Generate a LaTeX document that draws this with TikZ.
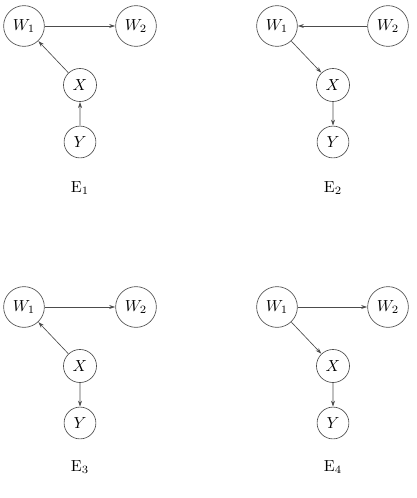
\documentclass[tikz,border=0pt]{standalone}
\usetikzlibrary{arrows.meta}
\begin{document}
\begin{tikzpicture}[x=0.625pt,y=-0.625pt,scale=1.6,
  every node/.style={transform shape},
  vnode/.style={circle,draw=black!70,line width=0.65pt,inner sep=3.33pt},
  elab/.style={anchor=base},
  edge/.style={draw=black!70,line width=0.65pt,-{Stealth[length=6pt,width=4pt]}}]
\useasboundingbox (0,0) rectangle (417,498);
% ---------- E1 ----------
\begin{scope}[shift={(24,26)}]
\node[vnode] (a1) at (0,0) {$W_1$};
\node[vnode] (a2) at (112,0) {$W_2$};
\node[vnode] (ax) at (56,59) {$X$};
\node[vnode] (ay) at (56,116) {$Y$};
\node[elab] (al) at (56,166) {$\mathrm{E}_1$};
\draw[edge] (a1) -- (a2);
\draw[edge] (ax) -- (a1);
\draw[edge] (ay) -- (ax);
\end{scope}
% ---------- E2 ----------
\begin{scope}[shift={(277,26)}]
\node[vnode] (b1) at (0,0) {$W_1$};
\node[vnode] (b2) at (111,0) {$W_2$};
\node[vnode] (bx) at (56,59) {$X$};
\node[vnode] (by) at (56,116) {$Y$};
\node[elab] (bl) at (56,166) {$\mathrm{E}_2$};
\draw[edge] (b2) -- (b1);
\draw[edge] (b1) -- (bx);
\draw[edge] (bx) -- (by);
\end{scope}
% ---------- E3 ----------
\begin{scope}[shift={(24,307)}]
\node[vnode] (c1) at (0,0) {$W_1$};
\node[vnode] (c2) at (112,0) {$W_2$};
\node[vnode] (cx) at (56,59) {$X$};
\node[vnode] (cy) at (56,116) {$Y$};
\node[elab] (cl) at (56,164) {$\mathrm{E}_3$};
\draw[edge] (c1) -- (c2);
\draw[edge] (cx) -- (c1);
\draw[edge] (cx) -- (cy);
\end{scope}
% ---------- E4 ----------
\begin{scope}[shift={(277,307)}]
\node[vnode] (d1) at (0,0) {$W_1$};
\node[vnode] (d2) at (111,0) {$W_2$};
\node[vnode] (dx) at (56,59) {$X$};
\node[vnode] (dy) at (56,116) {$Y$};
\node[elab] (dl) at (56,164) {$\mathrm{E}_4$};
\draw[edge] (d1) -- (d2);
\draw[edge] (d1) -- (dx);
\draw[edge] (dx) -- (dy);
\end{scope}
\end{tikzpicture}
\end{document}
